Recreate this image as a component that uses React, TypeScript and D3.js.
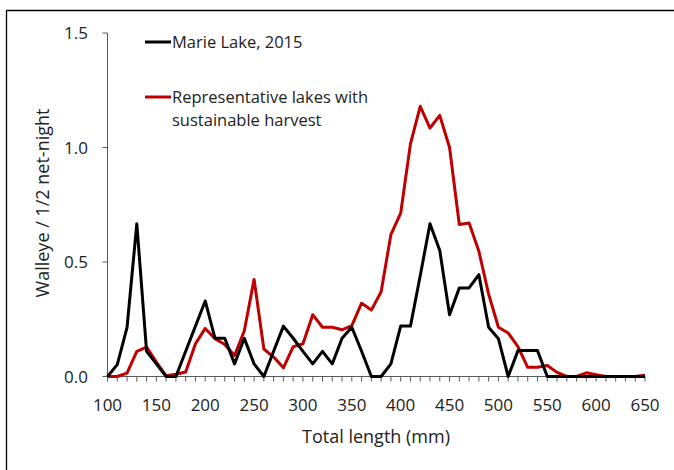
import React from "react";
import * as d3 from "d3";

const lengths: number[] = d3.range(100, 651, 10);

const marieLake: number[] = [
  0, 0.052, 0.215, 0.667, 0.11, 0.055, 0, 0, 0.11, 0.22,
  0.33, 0.167, 0.167, 0.055, 0.167, 0.055, 0, 0.11, 0.22, 0.167,
  0.11, 0.055, 0.11, 0.055, 0.167, 0.215, 0.11, 0, 0, 0.055,
  0.22, 0.22, 0.44, 0.667, 0.55, 0.27, 0.387, 0.387, 0.445, 0.215,
  0.165, 0, 0.113, 0.113, 0.113, 0, 0, 0, 0, 0,
  0, 0, 0, 0, 0, 0,
];

const representative: number[] = [
  0, 0, 0.015, 0.11, 0.128, 0.063, 0.003, 0.01, 0.02, 0.143,
  0.21, 0.165, 0.14, 0.092, 0.2, 0.424, 0.12, 0.085, 0.038, 0.13,
  0.143, 0.27, 0.215, 0.215, 0.204, 0.222, 0.32, 0.29, 0.37, 0.62,
  0.713, 1.016, 1.18, 1.085, 1.14, 1.0, 0.664, 0.67, 0.547, 0.36,
  0.215, 0.19, 0.13, 0.04, 0.04, 0.048, 0.018, 0, 0, 0.016,
  0.008, 0, 0, 0, 0, 0.005,
];

const xTicks: number[] = [100, 150, 200, 250, 300, 350, 400, 450, 500, 550, 600, 650];
const yTicks: number[] = [0, 0.5, 1.0, 1.5];

const seriesNames: string[] = ["Marie Lake, 2015", "Representative lakes with", "sustainable harvest"];

const W = 674;
const H = 470;
const FONT = "'Open Sans', Lato, sans-serif";

export default function App() {
  const x = d3.scaleLinear().domain([100, 650]).range([107.5, 645]);
  const y = d3.scaleLinear().domain([0, 1.5]).range([376.5, 33]);
  const line = d3
    .line<number>()
    .x((_, i) => x(lengths[i]))
    .y((d) => y(d))
    .curve(d3.curveLinear);
  const minor = d3.range(100, 651, 10);
  const axisColor = "#595959";

  return (
    <svg
      width={W}
      height={H}
      style={{ position: "absolute", left: 0, top: 0, background: "#fff" }}
    >
      <rect x={0} y={0} width={W} height={H} fill="#fff" />
      {/* frame */}
      <line x1={6.5} y1={10.5} x2={W} y2={10.5} stroke="#000" strokeWidth={1.3} />
      <line x1={6.5} y1={10.5} x2={6.5} y2={H} stroke="#000" strokeWidth={1.3} />

      {/* y axis */}
      <line x1={x(100)} y1={y(0)} x2={x(100)} y2={y(1.5)} stroke={axisColor} strokeWidth={1} />
      {yTicks.map((t) => (
        <g key={"yt" + t}>
          <line x1={x(100) - 5} x2={x(100)} y1={y(t)} y2={y(t)} stroke={axisColor} strokeWidth={1} />
          <text
            x={88}
            y={y(t)}
            dy="0.36em"
            textAnchor="end"
            fontFamily={FONT}
            fontSize={17}
            fill="#222"
          >
            {t.toFixed(1)}
          </text>
        </g>
      ))}

      {/* x axis */}
      <line x1={x(100)} y1={y(0)} x2={x(650)} y2={y(0)} stroke={axisColor} strokeWidth={1} />
      {minor.map((t) => (
        <line key={"xm" + t} x1={x(t)} x2={x(t)} y1={y(0)} y2={y(0) + 5} stroke={axisColor} strokeWidth={1} />
      ))}
      {xTicks.map((t) => (
        <text
          key={"xt" + t}
          x={x(t)}
          y={411}
          textAnchor="middle"
          fontFamily={FONT}
          fontSize={17}
          fill="#222"
        >
          {t}
        </text>
      ))}

      {/* axis titles */}
      <text x={376} y={443} textAnchor="middle" fontFamily={FONT} fontSize={18} fill="#222">
        Total length (mm)
      </text>
      <text
        transform={`translate(49,${203}) rotate(-90)`}
        textAnchor="middle"
        fontFamily={FONT}
        fontSize={18}
        fill="#222"
      >
        Walleye / 1/2 net-night
      </text>

      {/* series */}
      <path d={line(representative) || ""} fill="none" stroke="#C00000" strokeWidth={3} strokeLinejoin="round" />
      <path d={line(marieLake) || ""} fill="none" stroke="#000" strokeWidth={3} strokeLinejoin="round" />

      {/* legend */}
      <line x1={145} x2={171} y1={42} y2={42} stroke="#000" strokeWidth={3} />
      <text x={172} y={42} dy="0.36em" fontFamily={FONT} fontSize={16.5} fill="#222">
        {seriesNames[0]}
      </text>
      <line x1={145} x2={171} y1={97} y2={97} stroke="#C00000" strokeWidth={3} />
      <text x={172} y={97} dy="0.36em" fontFamily={FONT} fontSize={16.5} fill="#222">
        {seriesNames[1]}
      </text>
      <text x={172} y={120} dy="0.36em" fontFamily={FONT} fontSize={16.5} fill="#222">
        {seriesNames[2]}
      </text>
    </svg>
  );
}
